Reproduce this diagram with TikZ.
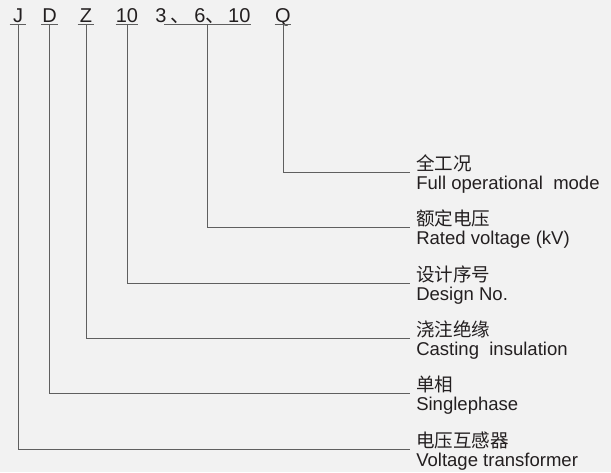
\documentclass[tikz,border=0pt]{standalone}
\usepackage{fontspec}
\setmainfont{Liberation Sans}
\newfontfamily\cjk{Noto Sans CJK SC}
\usetikzlibrary{calc}
\definecolor{bggray}{RGB}{242,242,242}
\definecolor{linegray}{RGB}{95,95,95}
\definecolor{textdark}{RGB}{35,31,32}
\begin{document}
\begin{tikzpicture}[x=0.75pt,y=-0.75pt,
    code/.style={anchor=base,inner xsep=0pt,inner ysep=1.5pt,text depth=0pt,
        minimum width=12pt,font=\fontsize{15}{16}\selectfont,text=textdark},
    meaning/.style={anchor=west,align=left,inner xsep=4.5pt,inner ysep=0pt,
        font=\fontsize{13.9}{14.6}\selectfont,text=textdark},
    link/.style={draw=linegray,line width=0.75pt}]
    % Background and frame
    \fill[bggray] (0,0) rectangle (611,472);

    % Model code
    \node[code] (J) at (18,22) {J};
    \node[code] (D) at (49.5,22) {D};
    \node[code] (Z) at (86,22) {Z};
    \node[code] (ten) at (127,22) {10};
    \node[code,anchor=base west,minimum width=0pt] (rv) at (155,22)
        {3\hspace{3pt}{\cjk 、}\hspace{3pt}6{\cjk 、}\hspace{2pt}10};
    \node[code] (Q) at (283,22) {Q};

    % Underlines
    \foreach \n in {J,D,Z,ten,Q}
        \draw[link] (\n.south west) -- (\n.south east);
    \coordinate (rvl) at ([xshift=7pt]rv.south west);
    \draw[link] (rvl) -- (rv.south east);
    \coordinate (rvmid) at ($(rvl)!0.5!(rv.south east)$);

    % Meanings
    \foreach \n/\y/\cn/\en in {Q/172/全工况/{Full operational\ \ mode},
                               rv/227/额定电压/{Rated voltage (kV)},
                               ten/283/设计序号/{Design No.},
                               Z/338/浇注绝缘/{Casting\ \ insulation},
                               D/393/单相/{Singlephase},
                               J/449/电压互感器/{Voltage transformer}}
        \node[meaning] (l\n) at (410,\y) {\rule{0pt}{15pt}{\cjk \cn}\\\en};

    % Leaders
    \foreach \n in {J,D,Z,ten,Q}
        \draw[link] (\n.south) |- (l\n.west);
    \draw[link] (rvmid) |- (lrv.west);
\end{tikzpicture}
\end{document}
